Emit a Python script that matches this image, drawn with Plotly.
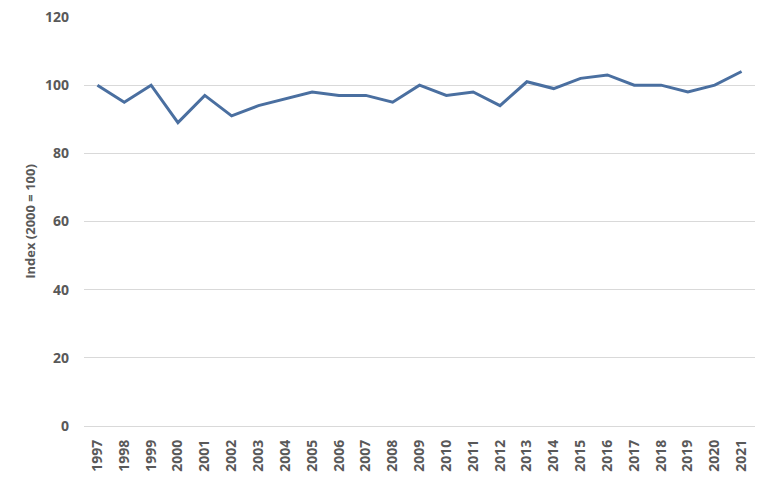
import plotly.graph_objects as go

# index values (2000 = 100 scale as labelled)
years = [str(y) for y in range(1997, 2022)]
index_values = [100, 95, 100, 89, 97, 91, 94, 96, 98, 97, 97, 95, 100,
                97, 98, 94, 101, 99, 102, 103, 100, 100, 98, 100, 104]
y_ticks = [0, 20, 40, 60, 80, 100, 120]

text_font = dict(family="Open Sans", size=14, color="#595959", weight="bold")

fig = go.Figure()
fig.add_trace(go.Scatter(
    x=years,
    y=index_values,
    mode="lines",
    line=dict(color="#4A6FA0", width=3),
    showlegend=False,
))

fig.update_layout(
    width=770,
    height=488,
    margin=dict(l=84, r=15, t=17, b=62),
    paper_bgcolor="white",
    plot_bgcolor="white",
)

fig.update_xaxes(
    type="category",
    range=[-0.5, len(years) - 0.5],
    tickangle=-90,
    tickfont=text_font,
    showgrid=False,
    showline=False,
    ticks="",
    ticklabelstandoff=10,
    automargin=False,
)

fig.update_yaxes(
    range=[0, 120],
    tickvals=y_ticks,
    tickfont=text_font,
    showgrid=True,
    gridcolor="#D9D9D9",
    gridwidth=1,
    zeroline=True,
    zerolinecolor="#D9D9D9",
    zerolinewidth=1,
    ticks="",
    ticklabelstandoff=14,
    automargin=False,
    title=dict(text="Index (2000 = 100)", font=dict(family="Open Sans", size=13,
                                                  color="#595959", weight="bold"),
               standoff=6),
)

# page has a default 8px body margin, drop it so the figure sits at 0,0
fig.write_html("out.html", config={"displayModeBar": False},
               post_script="document.body.style.margin='0';")
